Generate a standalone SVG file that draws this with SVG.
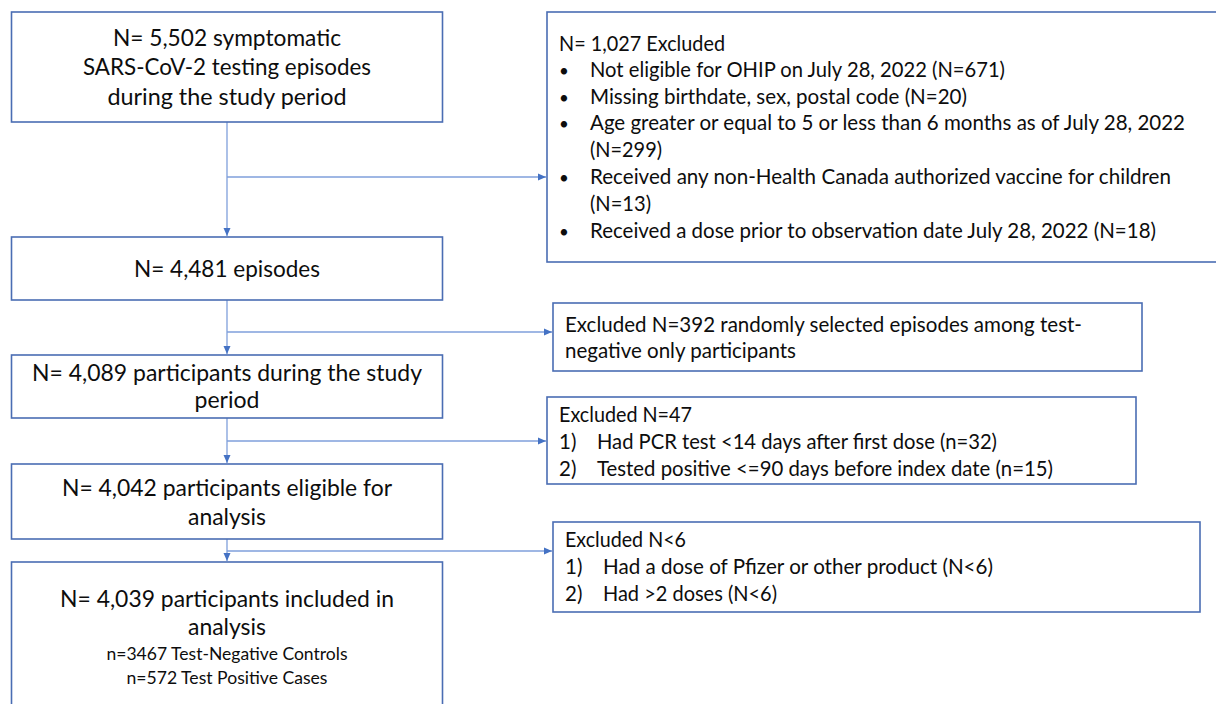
<svg xmlns="http://www.w3.org/2000/svg" width="1216" height="704" viewBox="0 0 1216 704">
<style>
.box{fill:#ffffff;stroke:#4a6db3;stroke-width:1.6}
.conn{fill:none;stroke:#7f9fdb;stroke-width:1.3}
.t{font-family:Lato,"Liberation Sans",Arial,sans-serif;fill:#0d0d0d}
.m{font-size:23.5px;text-anchor:middle}
.s{font-size:17px;text-anchor:middle}
.e{font-size:20.5px}
.b{font-size:17px;text-anchor:middle}
</style>
<defs>
<marker id="ah" viewBox="0 0 8 8" refX="8" refY="4" markerWidth="8" markerHeight="8" orient="auto" markerUnits="userSpaceOnUse">
<path d="M0,0.5 L8,4 L0,7.5 z" fill="#4472C4"/>
</marker>
</defs>
<rect width="1216" height="704" fill="#ffffff"/>
<g id="connectors">
<path class="conn" d="M227,122 V236" marker-end="url(#ah)"/>
<path class="conn" d="M227,177 H546" marker-end="url(#ah)"/>
<path class="conn" d="M227,300 V354" marker-end="url(#ah)"/>
<path class="conn" d="M227,332 H552" marker-end="url(#ah)"/>
<path class="conn" d="M227,418 V463" marker-end="url(#ah)"/>
<path class="conn" d="M227,441 H546" marker-end="url(#ah)"/>
<path class="conn" d="M227,539 V561" marker-end="url(#ah)"/>
<path class="conn" d="M227,551 H552" marker-end="url(#ah)"/>
</g>
<g id="n1">
<rect class="box" x="11.5" y="12" width="431" height="110"/>
<text class="t m" x="227" y="46" textLength="228" lengthAdjust="spacingAndGlyphs">N= 5,502 symptomatic</text>
<text class="t m" x="227" y="75" textLength="288" lengthAdjust="spacingAndGlyphs">SARS-CoV-2 testing episodes</text>
<text class="t m" x="227" y="105" textLength="239" lengthAdjust="spacingAndGlyphs">during the study period</text>
</g>
<g id="n2">
<rect class="box" x="11.5" y="237" width="431" height="63"/>
<text class="t m" x="227" y="277" textLength="186" lengthAdjust="spacingAndGlyphs">N= 4,481 episodes</text>
</g>
<g id="n3">
<rect class="box" x="11.5" y="355" width="431" height="63"/>
<text class="t m" x="227" y="381" textLength="390" lengthAdjust="spacingAndGlyphs">N= 4,089 participants during the study</text>
<text class="t m" x="227" y="408" textLength="65" lengthAdjust="spacingAndGlyphs">period</text>
</g>
<g id="n4">
<rect class="box" x="11.5" y="464" width="431" height="75"/>
<text class="t m" x="227" y="496" textLength="330" lengthAdjust="spacingAndGlyphs">N= 4,042 participants eligible for</text>
<text class="t m" x="227" y="525" textLength="78" lengthAdjust="spacingAndGlyphs">analysis</text>
</g>
<g id="n5">
<rect class="box" x="11.5" y="562" width="431" height="150"/>
<text class="t m" x="227" y="607" textLength="334" lengthAdjust="spacingAndGlyphs">N= 4,039 participants included in</text>
<text class="t m" x="227" y="635" textLength="78" lengthAdjust="spacingAndGlyphs">analysis</text>
<text class="t s" x="227" y="660" textLength="241" lengthAdjust="spacingAndGlyphs">n=3467 Test-Negative Controls</text>
<text class="t s" x="227" y="684" textLength="201" lengthAdjust="spacingAndGlyphs">n=572 Test Positive Cases</text>
</g>
<g id="x1">
<rect class="box" x="547" y="12" width="680" height="250"/>
<text class="t e" x="559" y="51" textLength="166" lengthAdjust="spacingAndGlyphs">N= 1,027 Excluded</text>
<text class="t b" x="564" y="77">•</text>
<text class="t e" x="590" y="77" textLength="415" lengthAdjust="spacingAndGlyphs">Not eligible for OHIP on July 28, 2022 (N=671)</text>
<text class="t b" x="564" y="104">•</text>
<text class="t e" x="590" y="104" textLength="377" lengthAdjust="spacingAndGlyphs">Missing birthdate, sex, postal code (N=20)</text>
<text class="t b" x="564" y="130">•</text>
<text class="t e" x="590" y="130" textLength="595" lengthAdjust="spacingAndGlyphs">Age greater or equal to 5 or less than 6 months as of July 28, 2022</text>
<text class="t e" x="590" y="157" textLength="72" lengthAdjust="spacingAndGlyphs">(N=299)</text>
<text class="t b" x="564" y="184">•</text>
<text class="t e" x="590" y="184" textLength="581" lengthAdjust="spacingAndGlyphs">Received any non-Health Canada authorized vaccine for children</text>
<text class="t e" x="590" y="211" textLength="61" lengthAdjust="spacingAndGlyphs">(N=13)</text>
<text class="t b" x="564" y="238">•</text>
<text class="t e" x="590" y="238" textLength="566" lengthAdjust="spacingAndGlyphs">Received a dose prior to observation date July 28, 2022 (N=18)</text>
</g>
<g id="x2">
<rect class="box" x="553" y="303" width="589" height="68"/>
<text class="t e" x="565" y="332" textLength="517" lengthAdjust="spacingAndGlyphs">Excluded N=392 randomly selected episodes among test-</text>
<text class="t e" x="565" y="358" textLength="231" lengthAdjust="spacingAndGlyphs">negative only participants</text>
</g>
<g id="x3">
<rect class="box" x="547" y="397" width="589" height="87"/>
<text class="t e" x="559" y="422" textLength="133" lengthAdjust="spacingAndGlyphs">Excluded N=47</text>
<text class="t e" x="559" y="449">1)</text>
<text class="t e" x="597" y="449" textLength="400" lengthAdjust="spacingAndGlyphs">Had PCR test &lt;14 days after first dose (n=32)</text>
<text class="t e" x="559" y="476">2)</text>
<text class="t e" x="597" y="476" textLength="456" lengthAdjust="spacingAndGlyphs">Tested positive &lt;=90 days before index date (n=15)</text>
</g>
<g id="x4">
<rect class="box" x="553" y="522" width="647" height="90"/>
<text class="t e" x="565" y="547" textLength="121" lengthAdjust="spacingAndGlyphs">Excluded N&lt;6</text>
<text class="t e" x="565" y="574">1)</text>
<text class="t e" x="603" y="574" textLength="390" lengthAdjust="spacingAndGlyphs">Had a dose of Pfizer or other product (N&lt;6)</text>
<text class="t e" x="565" y="601">2)</text>
<text class="t e" x="603" y="601" textLength="174" lengthAdjust="spacingAndGlyphs">Had &gt;2 doses (N&lt;6)</text>
</g>
</svg>
